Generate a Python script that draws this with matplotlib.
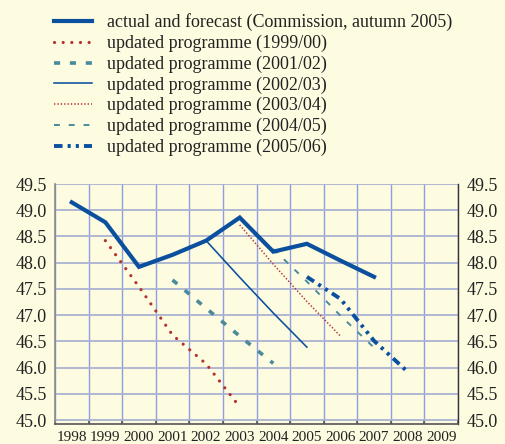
import matplotlib
matplotlib.use("Agg")
import matplotlib.pyplot as plt
from matplotlib.ticker import FixedLocator

# ---- data ----
years = ['1998', '1999', '2000', '2001', '2002', '2003',
         '2004', '2005', '2006', '2007', '2008', '2009']
y_ticks = [45.0, 45.5, 46.0, 46.5, 47.0, 47.5, 48.0, 48.5, 49.0, 49.5]

actual_years = [1998, 1999, 2000, 2001, 2002, 2003, 2004, 2005, 2006, 2007]
actual = [49.15, 48.77, 47.92, 48.15, 48.42, 48.86, 48.21, 48.36, 48.04, 47.73]

p9900_years = [1999, 2000, 2001, 2002, 2003]
p9900 = [48.42, 47.54, 46.62, 46.07, 45.25]

p0102_years = [2001, 2002, 2003, 2004]
p0102 = [47.67, 47.13, 46.60, 46.08]

p0203_years = [2002, 2003, 2004, 2005]
p0203 = [48.42, 47.72, 47.04, 46.39]

p0304_years = [2003, 2004, 2005, 2006]
p0304 = [48.72, 47.97, 47.26, 46.60]

p0405_years = [2004, 2005, 2006, 2007]
p0405 = [48.26, 47.64, 46.99, 46.38]

p0506_years = [2005, 2006, 2007, 2008]
p0506 = [47.73, 47.31, 46.51, 45.92]

labels = ['actual and forecast (Commission, autumn 2005)',
          'updated programme (1999/00)',
          'updated programme (2001/02)',
          'updated programme (2002/03)',
          'updated programme (2003/04)',
          'updated programme (2004/05)',
          'updated programme (2005/06)']

# ---- style ----
BG = '#fdfbe0'
BLUE = '#0b509f'
RED = '#b3322f'
TEAL = '#4a8b9b'

plt.rcParams['font.family'] = ['Liberation Serif', 'DejaVu Serif']

fig = plt.figure(figsize=(5.06, 4.44), dpi=100, facecolor=BG)
W, H = 506, 444
ax = fig.add_axes([55 / W, 1 - 424 / H, (458 - 55) / W, (424 - 184) / H])
ax.set_facecolor(BG)

base = int(years[0])
def xs(yrs):
    return [y - base for y in yrs]

l0, = ax.plot(xs(actual_years), actual, color=BLUE, lw=3.0, solid_joinstyle='miter', zorder=5)
l1, = ax.plot(xs(p9900_years), p9900, color=RED, lw=2.3, linestyle=(0, (0.01, 2.7)),
              dash_capstyle='round', zorder=4)
l2, = ax.plot(xs(p0102_years), p0102, color=TEAL, lw=2.6, linestyle=(0, (1.7, 2.7)),
              dash_capstyle='butt', zorder=4)
l3, = ax.plot(xs(p0203_years), p0203, color=BLUE, lw=1.15, zorder=4)
l4, = ax.plot(xs(p0304_years), p0304, color=RED, lw=1.1, linestyle=(0, (0.9, 1.3)),
              dash_capstyle='butt', zorder=4)
l5, = ax.plot(xs(p0405_years), p0405, color=TEAL, lw=1.4, linestyle=(0, (3.0, 4.6)),
              dash_capstyle='butt', zorder=4)
l6, = ax.plot(xs(p0506_years), p0506, color=BLUE, lw=2.8,
              linestyle=(0, (2.2, 1.3, 0.8, 1.3, 0.8, 1.3)),
              dash_capstyle='butt', zorder=4)

n = len(years)
ax.set_xlim(-0.5, n - 0.5)
ax.set_ylim(44.924, 49.5)

ax.set_xticks(range(n))
ax.set_xticklabels(years)
ax.xaxis.set_minor_locator(FixedLocator([i - 0.5 for i in range(n + 1)]))
ax.tick_params(axis='x', which='major', length=0, pad=5, labelsize=11, colors='#222222')
ax.tick_params(axis='x', which='minor', direction='in', length=3, width=1.2, color='#555555')

ax.set_yticks(y_ticks)
ax.set_yticklabels([f'{v:.1f}' for v in y_ticks])
ax.tick_params(axis='y', which='both', length=0, pad=6, labelsize=13, colors='#222222',
               left=True, right=True, labelleft=True, labelright=True)

ax.grid(axis='y', which='major', color='#aab2d2', lw=1.3, zorder=0)
ax.grid(axis='x', which='minor', color='#8e9ee0', lw=1.0, zorder=0)
ax.grid(axis='x', which='major', visible=False)
ax.set_axisbelow(True)

ax.spines['top'].set_visible(False)
ax.spines['left'].set_color('#8a8a8a')
ax.spines['left'].set_linewidth(1.2)
ax.spines['right'].set_color('#333333')
ax.spines['right'].set_linewidth(1.0)
ax.spines['bottom'].set_color('#555555')
ax.spines['bottom'].set_linewidth(1.2)

fig.legend([l0, l1, l2, l3, l4, l5, l6], labels,
           loc='upper left', bbox_to_anchor=(54 / W, 1 - 13.5 / H),
           frameon=False, fontsize=13, handlelength=2.1, handletextpad=0.85,
           labelspacing=0.19, borderpad=0, borderaxespad=0,
           labelcolor='#222222')

fig.savefig('out.png', dpi=100, facecolor=BG)
